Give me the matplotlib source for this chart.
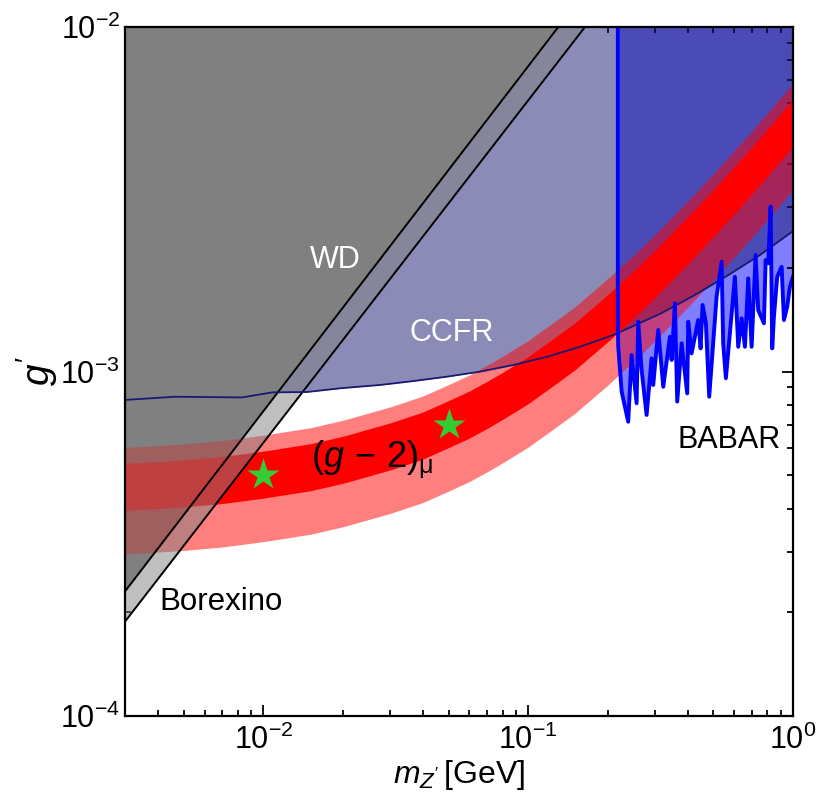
import matplotlib
matplotlib.use("Agg")
import matplotlib.pyplot as plt
import numpy as np

plt.rcParams['font.family'] = ['Liberation Sans', 'DejaVu Sans']
plt.rcParams['mathtext.fontset'] = 'custom'
plt.rcParams['mathtext.rm'] = 'Liberation Sans'
plt.rcParams['mathtext.it'] = 'Liberation Sans:italic'
plt.rcParams['mathtext.sf'] = 'Liberation Sans'

# WD and Borexino bounds (straight lines, from left edge to top edge)
wd_m = [0.003, 0.1299]
wd_g = [2.30e-4, 1.0e-2]
bx_m = [0.003, 0.1638]
bx_g = [1.88e-4, 1.0e-2]

# CCFR bound
ccfr_m = [0.003, 0.00463, 0.0083, 0.0108, 0.0146, 0.0195, 0.0276, 0.0367, 0.0493,
          0.0657, 0.0876, 0.118, 0.157, 0.209, 0.222, 0.314, 0.419, 0.563, 0.75, 1.0]
ccfr_g = [8.27e-4, 8.45e-4, 8.41e-4, 8.70e-4, 8.72e-4, 8.94e-4, 9.14e-4, 9.38e-4, 9.66e-4,
          9.99e-4, 1.044e-3, 1.104e-3, 1.180e-3, 1.276e-3, 1.302e-3, 1.469e-3, 1.656e-3,
          1.894e-3, 2.178e-3, 2.557e-3]

# BABAR bound
babar_m = [0.218, 0.218, 0.2188, 0.2254, 0.2386, 0.2458, 0.2567, 0.2603, 0.2681, 0.2800,
           0.2924, 0.2966, 0.3098, 0.3236, 0.3430, 0.3481, 0.3582, 0.3654, 0.3796, 0.3986,
           0.4021, 0.4141, 0.4385, 0.4478, 0.4556, 0.4689, 0.4826, 0.5146, 0.5375, 0.5450,
           0.5579, 0.6035, 0.6211, 0.6397, 0.6584, 0.6776, 0.6979, 0.7225, 0.7390, 0.7767,
           0.7884, 0.8063, 0.8233, 0.8348, 0.8472, 0.8720, 0.9060, 0.9243, 0.9510, 0.9736, 1.0]
babar_g = [1e-2, 1.38e-3, 1.18e-3, 8.74e-4, 7.15e-4, 1.117e-3, 8.09e-4, 1.395e-3, 1.010e-3, 7.48e-4,
           1.092e-3, 9.14e-4, 1.320e-3, 9.03e-4, 1.262e-3, 1.080e-3, 1.578e-3, 8.18e-4, 1.207e-3, 8.64e-4,
           1.395e-3, 1.129e-3, 1.411e-3, 1.167e-3, 1.560e-3, 1.380e-3, 8.45e-4, 1.648e-3, 2.083e-3, 1.207e-3,
           9.56e-4, 1.884e-3, 1.180e-3, 1.427e-3, 1.180e-3, 1.864e-3, 1.180e-3, 2.178e-3, 1.508e-3, 1.380e-3,
           2.107e-3, 2.061e-3, 3.009e-3, 1.167e-3, 1.442e-3, 1.884e-3, 2.014e-3, 1.411e-3, 1.542e-3, 1.763e-3, 1.884e-3]

# (g-2)_mu band edges
band_m = [0.003, 0.004, 0.005, 0.007, 0.01, 0.015, 0.02, 0.03, 0.04, 0.05, 0.06, 0.07, 0.08,
          0.1, 0.12, 0.15, 0.2, 0.25, 0.3, 0.4, 0.5, 0.6, 0.7, 0.85, 1.0]
outer_hi = [6.025e-4, 6.094e-4, 6.164e-4, 6.306e-4, 6.537e-4, 6.864e-4, 7.222e-4, 7.885e-4, 8.488e-4,
            9.161e-4, 9.769e-4, 1.0423e-3, 1.1062e-3, 1.2294e-3, 1.3593e-3, 1.5400e-3, 1.8619e-3,
            2.1781e-3, 2.4918e-3, 3.1260e-3, 3.7436e-3, 4.3714e-3, 4.9900e-3, 5.9292e-3, 6.8559e-3]
inner_hi = [5.414e-4, 5.476e-4, 5.539e-4, 5.666e-4, 5.874e-4, 6.168e-4, 6.489e-4, 7.085e-4, 7.627e-4,
            8.232e-4, 8.778e-4, 9.366e-4, 9.940e-4, 1.1047e-3, 1.2214e-3, 1.3838e-3, 1.6730e-3,
            1.9571e-3, 2.2390e-3, 2.8089e-3, 3.3638e-3, 3.9279e-3, 4.4838e-3, 5.3277e-3, 6.1604e-3]
inner_lo = [3.954e-4, 3.999e-4, 4.045e-4, 4.138e-4, 4.290e-4, 4.505e-4, 4.739e-4, 5.175e-4, 5.570e-4,
            6.012e-4, 6.411e-4, 6.840e-4, 7.260e-4, 8.068e-4, 8.921e-4, 1.0107e-3, 1.2219e-3,
            1.4294e-3, 1.6353e-3, 2.0515e-3, 2.4567e-3, 2.8688e-3, 3.2748e-3, 3.8911e-3, 4.4993e-3]
outer_lo = [2.957e-4, 2.991e-4, 3.025e-4, 3.095e-4, 3.208e-4, 3.369e-4, 3.544e-4, 3.870e-4, 4.166e-4,
            4.496e-4, 4.795e-4, 5.116e-4, 5.429e-4, 6.034e-4, 6.671e-4, 7.558e-4, 9.138e-4,
            1.0690e-3, 1.2230e-3, 1.5342e-3, 1.8373e-3, 2.1455e-3, 2.4491e-3, 2.9100e-3, 3.3649e-3]

star_m = [0.01, 0.05]
star_g = [5.0e-4, 7.0e-4]

fig = plt.figure(figsize=(8.3, 8.11), dpi=100)
ax = fig.add_axes([0.1506, 0.1171, 0.8048, 0.8496])
ax.set_xscale('log')
ax.set_yscale('log')

ax.fill_between(babar_m, babar_g, 1e-2, color='blue', alpha=0.5, lw=0, zorder=1)
ax.fill_between(ccfr_m, ccfr_g, 1e-2, color='midnightblue', alpha=0.5, lw=0, zorder=2)
ax.fill_between(wd_m, wd_g, 1e-2, color='#808080', lw=0, zorder=3)
ax.fill_between(band_m, outer_lo, outer_hi, color='red', alpha=0.5, lw=0, zorder=4)
ax.fill_between(band_m, inner_lo, inner_hi, color='red', lw=0, zorder=5)
ax.fill_between(bx_m, bx_g, 1e-2, color='#808080', alpha=0.5, lw=0, zorder=6)

ax.plot(wd_m, wd_g, color='black', lw=1.4, zorder=7)
ax.plot(bx_m, bx_g, color='black', lw=1.4, zorder=7)
ax.plot(ccfr_m, ccfr_g, color='midnightblue', lw=1.3, zorder=8)
ax.plot(babar_m, babar_g, color='blue', lw=2.8, zorder=9)
ax.plot(star_m, star_g, '*', color='#33cc33', ms=24, mec='none', zorder=10)

ax.text(0.01864, 2.107e-3, 'WD', color='white', fontsize=22, ha='center', va='center', zorder=11)
ax.text(0.05152, 1.293e-3, 'CCFR', color='white', fontsize=22, ha='center', va='center', zorder=11)
ax.text(0.5729, 6.325e-4, 'BABAR', color='black', fontsize=22, ha='center', va='center', zorder=11)
ax.text(0.006912, 2.143e-4, 'Borexino', color='black', fontsize=22.5, ha='center', va='center', zorder=11)
ax.text(0.01512, 5.55e-4, r'$(g\,-\,2)_\mathrm{\mu}$', color='black', fontsize=26,
        ha='left', va='center', zorder=11)

ax.set_xlim(3e-3, 1)
ax.set_ylim(1e-4, 1e-2)
ax.tick_params(which='both', direction='in', top=True, right=True, width=1.3, labelsize=22)
ax.tick_params(which='major', length=8)
ax.tick_params(which='minor', length=4)
ax.tick_params(axis='x', pad=6)
for s in ax.spines.values():
    s.set_linewidth(1.6)
    s.set_zorder(12)

ax.set_xlabel(r"$m_{Z'}\,$[GeV]", fontsize=23, labelpad=2)
ax.set_ylabel(r"$g'$", fontsize=28, labelpad=0)

fig.savefig('out.png', dpi=100)
